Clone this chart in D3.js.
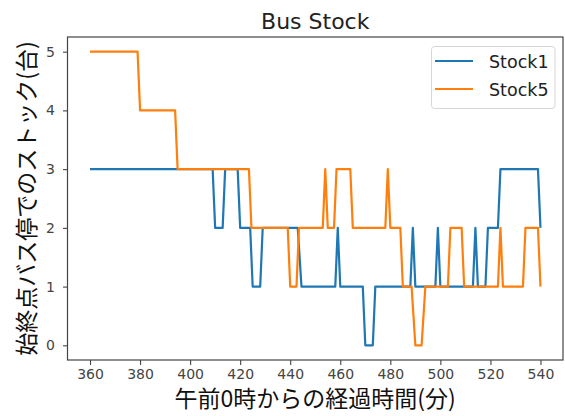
<!DOCTYPE html>
<html>
<head>
<meta charset="utf-8">
<script src="https://cdn.jsdelivr.net/npm/d3@7"></script>
<style>
  body { margin: 0; background: #fff; }
  text { font-family: "DejaVu Sans", sans-serif; }
  .jp { font-family: "Noto Sans CJK JP", sans-serif; }
</style>
</head>
<body>
<script>
// vertices of each line: minutes after midnight, stock count
var stock1Time = [360, 409, 410, 413, 414, 419, 420, 424, 425, 428, 429, 443, 444.5,
    458, 459, 460, 469, 470, 473, 474, 488, 489, 490, 498, 499, 500,
    513, 514, 515, 518, 519, 523, 524, 539, 540];
var stock1Value = [3, 3, 2, 2, 3, 3, 2, 2, 1, 1, 2, 2, 1,
    1, 2, 1, 1, 0, 0, 1, 1, 2, 1, 1, 2, 1,
    1, 2, 1, 1, 2, 2, 3, 3, 2];

var stock5Time = [360, 379, 380, 394, 395, 423.5, 424.5, 439, 440, 442.5, 443.5,
    453, 454, 455, 457.5, 458.5, 464, 465, 478, 479, 480, 484, 485,
    488.5, 490, 492.5, 494, 503, 504, 508.5, 509.5, 523, 524, 525,
    533, 534, 539, 540];
var stock5Value = [5, 5, 4, 4, 3, 3, 2, 2, 1, 1, 2,
    2, 3, 2, 2, 3, 3, 2, 2, 3, 2, 2, 1,
    1, 0, 0, 1, 1, 2, 2, 1, 1, 2, 1,
    1, 2, 2, 1];

var xTicks = [360, 380, 400, 420, 440, 460, 480, 500, 520, 540];
var yTicks = [0, 1, 2, 3, 4, 5];
var seriesNames = ["Stock1", "Stock5"];
var colors = ["#1f77b4", "#ff7f0e"];

(function(){
    var W = 565, H = 416;
    var pl = 67.5, pr = 563, pt = 37, pb = 360;

    var svg = d3.select("body").append("svg")
        .attr("width", W).attr("height", H);

    var x = d3.scaleLinear().domain([351, 549]).range([pl, pr]);
    var y = d3.scaleLinear().domain([-0.25, 5.25]).range([pb, pt]);

    var xAxis = svg.append("g")
        .attr("transform", "translate(0," + pb + ")")
        .call(d3.axisBottom(x).tickValues(xTicks).tickFormat(d3.format("d"))
            .tickSize(5).tickPadding(4));
    var yAxis = svg.append("g")
        .attr("transform", "translate(" + pl + ",0)")
        .call(d3.axisLeft(y).tickValues(yTicks).tickFormat(d3.format("d"))
            .tickSize(4.5).tickPadding(8));

    [xAxis, yAxis].forEach(function(a) {
        a.select(".domain").remove();
        a.selectAll("line").attr("stroke", "#444").attr("stroke-width", 1.1);
        a.selectAll("text").attr("fill", "#444")
            .style("font-family", "DejaVu Sans").style("font-size", "14px");
    });

    var line = d3.line()
        .x(function(d) { return x(d[0]); })
        .y(function(d) { return y(d[1]); });

    var series = [
        d3.zip(stock1Time, stock1Value),
        d3.zip(stock5Time, stock5Value)
    ];

    svg.selectAll("path.series").data(series)
        .enter()
        .append("path").attr("class", "series")
        .attr("d", line)
        .attr("fill", "none")
        .attr("stroke", function(d, i) { return colors[i]; })
        .attr("stroke-width", 2.2)
        .attr("stroke-linejoin", "round");

    // frame
    svg.append("rect")
        .attr("x", pl).attr("y", pt)
        .attr("width", pr - pl).attr("height", pb - pt)
        .attr("fill", "none").attr("stroke", "#444").attr("stroke-width", 1.2);

    // title and labels
    svg.append("text")
        .attr("x", (pl + pr) / 2).attr("y", 28.5)
        .attr("text-anchor", "middle")
        .style("font-size", "22px").attr("fill", "#222")
        .text("Bus Stock");

    svg.append("text").attr("class", "jp")
        .attr("x", (pl + pr) / 2).attr("y", 407)
        .attr("text-anchor", "middle")
        .style("font-size", "23px").attr("fill", "#111")
        .text("午前0時からの経過時間(分)");

    svg.append("text").attr("class", "jp")
        .attr("transform", "translate(35," + ((pt + pb) / 2) + ") rotate(-90)")
        .attr("text-anchor", "middle")
        .style("font-size", "23px").attr("fill", "#111")
        .text("始終点バス停でのストック(台)");

    // legend
    var legend = svg.append("g");
    legend.append("rect")
        .attr("x", 431.5).attr("y", 46.5)
        .attr("width", 123.5).attr("height", 62)
        .attr("rx", 3)
        .attr("fill", "#fff").attr("fill-opacity", 0.8)
        .attr("stroke", "#d6d6d6");

    var items = legend.selectAll("g.item").data(seriesNames)
        .enter()
        .append("g").attr("class", "item")
        .attr("transform", function(d, i) { return "translate(0," + (61 + i * 28) + ")"; });
    items.append("line")
        .attr("x1", 435).attr("x2", 473)
        .attr("stroke", function(d, i) { return colors[i]; })
        .attr("stroke-width", 2.2);
    items.append("text")
        .attr("x", 489).attr("y", 6.5)
        .style("font-size", "17.5px").attr("fill", "#222")
        .text(function(d) { return d; });
})();
</script>
</body>
</html>
